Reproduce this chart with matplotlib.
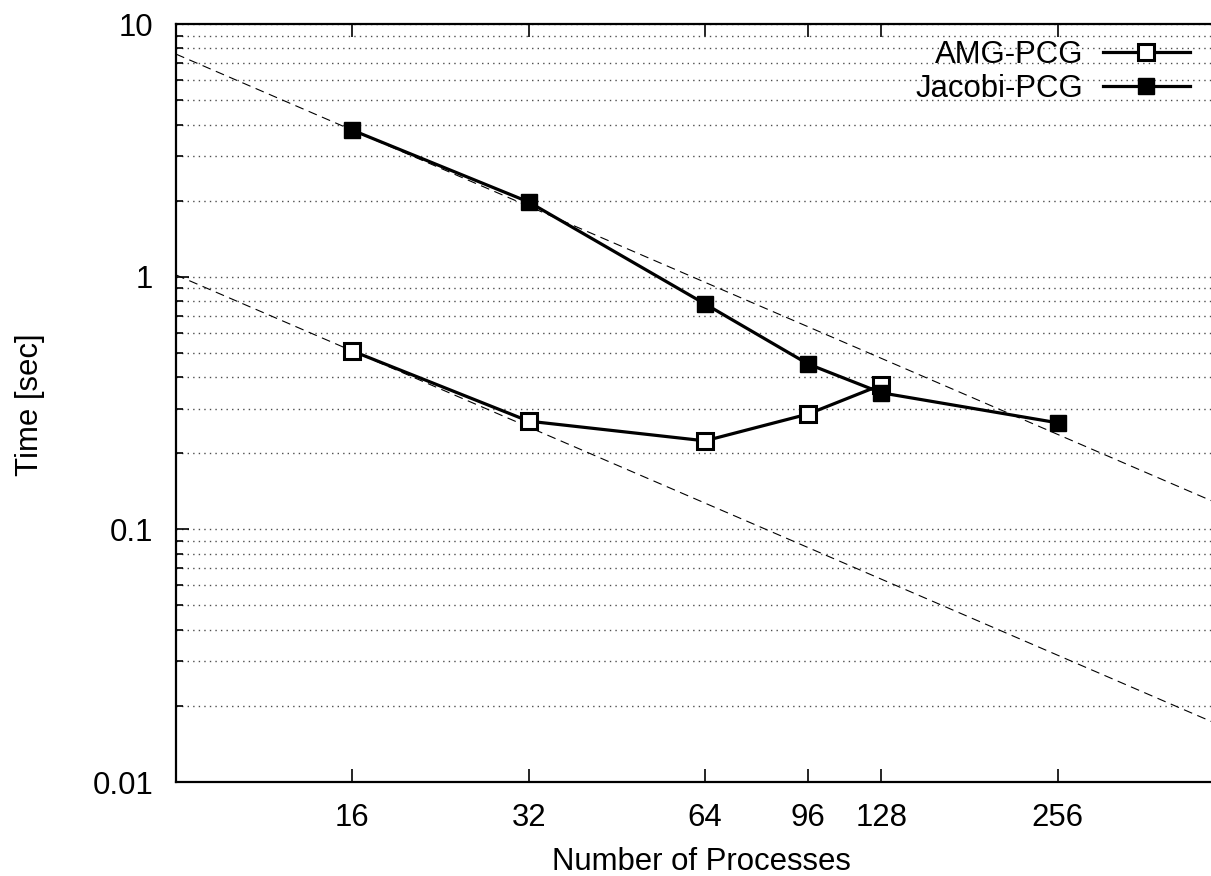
import matplotlib
matplotlib.use("Agg")
import matplotlib.pyplot as plt
from matplotlib.ticker import FixedLocator, FixedFormatter, LogLocator, NullFormatter
import numpy as np

plt.rcParams['font.family'] = ['Liberation Sans', 'DejaVu Sans']

amg_procs = [16, 32, 64, 96, 128]
amg_time = [0.508, 0.268, 0.224, 0.286, 0.373]
jacobi_procs = [16, 32, 64, 96, 128, 256]
jacobi_time = [3.80, 1.975, 0.78, 0.451, 0.347, 0.264]
x_ticks = [16, 32, 64, 96, 128, 256]
x_tick_labels = ["16", "32", "64", "96", "128", "256"]
y_ticks = [0.01, 0.1, 1, 10]
y_tick_labels = ["0.01", "0.1", "1", "10"]
series_labels = ["AMG-PCG", "Jacobi-PCG"]

FS = 22.4
W, H = 1211, 876
fig = plt.figure(figsize=(W / 100, H / 100), dpi=100)
ax_l, ax_r, ax_t, ax_b = 176, 1234, 24, 782
ax = fig.add_axes([ax_l / W, (H - ax_b) / H, (ax_r - ax_l) / W, (ax_b - ax_t) / H])
ax.set_xscale('log', base=2)
ax.set_yscale('log')
ax.set_xlim(8, 512)
ax.set_ylim(0.01, 10)

ax.yaxis.set_major_locator(FixedLocator(y_ticks))
ax.yaxis.set_major_formatter(FixedFormatter(y_tick_labels))
ax.yaxis.set_minor_locator(LogLocator(base=10, subs=np.arange(2, 10)))
ax.yaxis.set_minor_formatter(NullFormatter())
ax.xaxis.set_major_locator(FixedLocator(x_ticks))
ax.xaxis.set_major_formatter(FixedFormatter(x_tick_labels))
ax.xaxis.set_minor_locator(FixedLocator([]))
ax.grid(True, axis='y', which='both', linestyle=(0, (1, 3)), color='0.3', linewidth=1.0)
ax.set_axisbelow(True)

# ideal scaling reference lines (through the 16-process times)
xr = np.array([8, 512], dtype=float)
ax.plot(xr, jacobi_time[0] * jacobi_procs[0] / xr, color='black', lw=0.8,
        linestyle=(0, (8, 5)), zorder=2)
ax.plot(xr, amg_time[0] * amg_procs[0] / xr, color='black', lw=0.8,
        linestyle=(0, (8, 5)), zorder=2)

ax.plot(amg_procs, amg_time, color='black', lw=2.3, marker='s', markersize=11,
        markerfacecolor='white', markeredgecolor='black', markeredgewidth=2.2,
        label=series_labels[0], zorder=3)
ax.plot(jacobi_procs, jacobi_time, color='black', lw=2.3, marker='s', markersize=11,
        markerfacecolor='black', markeredgecolor='black',
        label=series_labels[1], zorder=4)

for s in ax.spines.values():
    s.set_linewidth(1.6)
ax.tick_params(axis='both', which='both', direction='in', top=True, right=True,
               width=1.2, labelsize=FS, colors='black')
ax.tick_params(axis='x', which='major', length=9.5, pad=15)
ax.tick_params(axis='y', which='major', length=9.5, pad=16.5)
ax.tick_params(axis='y', which='minor', length=5)

fig.text(701 / W, 6 / H, "Number of Processes", ha='center', va='baseline', fontsize=FS)
fig.text(30 / W, 1 - 405 / H, "Time [sec]", ha='center', va='center', rotation=90, fontsize=FS)

leg = ax.legend(loc='upper right', bbox_to_anchor=(1190 / W, 1 - 40 / H),
                bbox_transform=fig.transFigure, frameon=False, markerfirst=False,
                fontsize=FS, handlelength=2.8, handletextpad=0.64, labelspacing=0.13,
                borderpad=0, borderaxespad=0, numpoints=1)

fig.savefig("out.png", dpi=100)
